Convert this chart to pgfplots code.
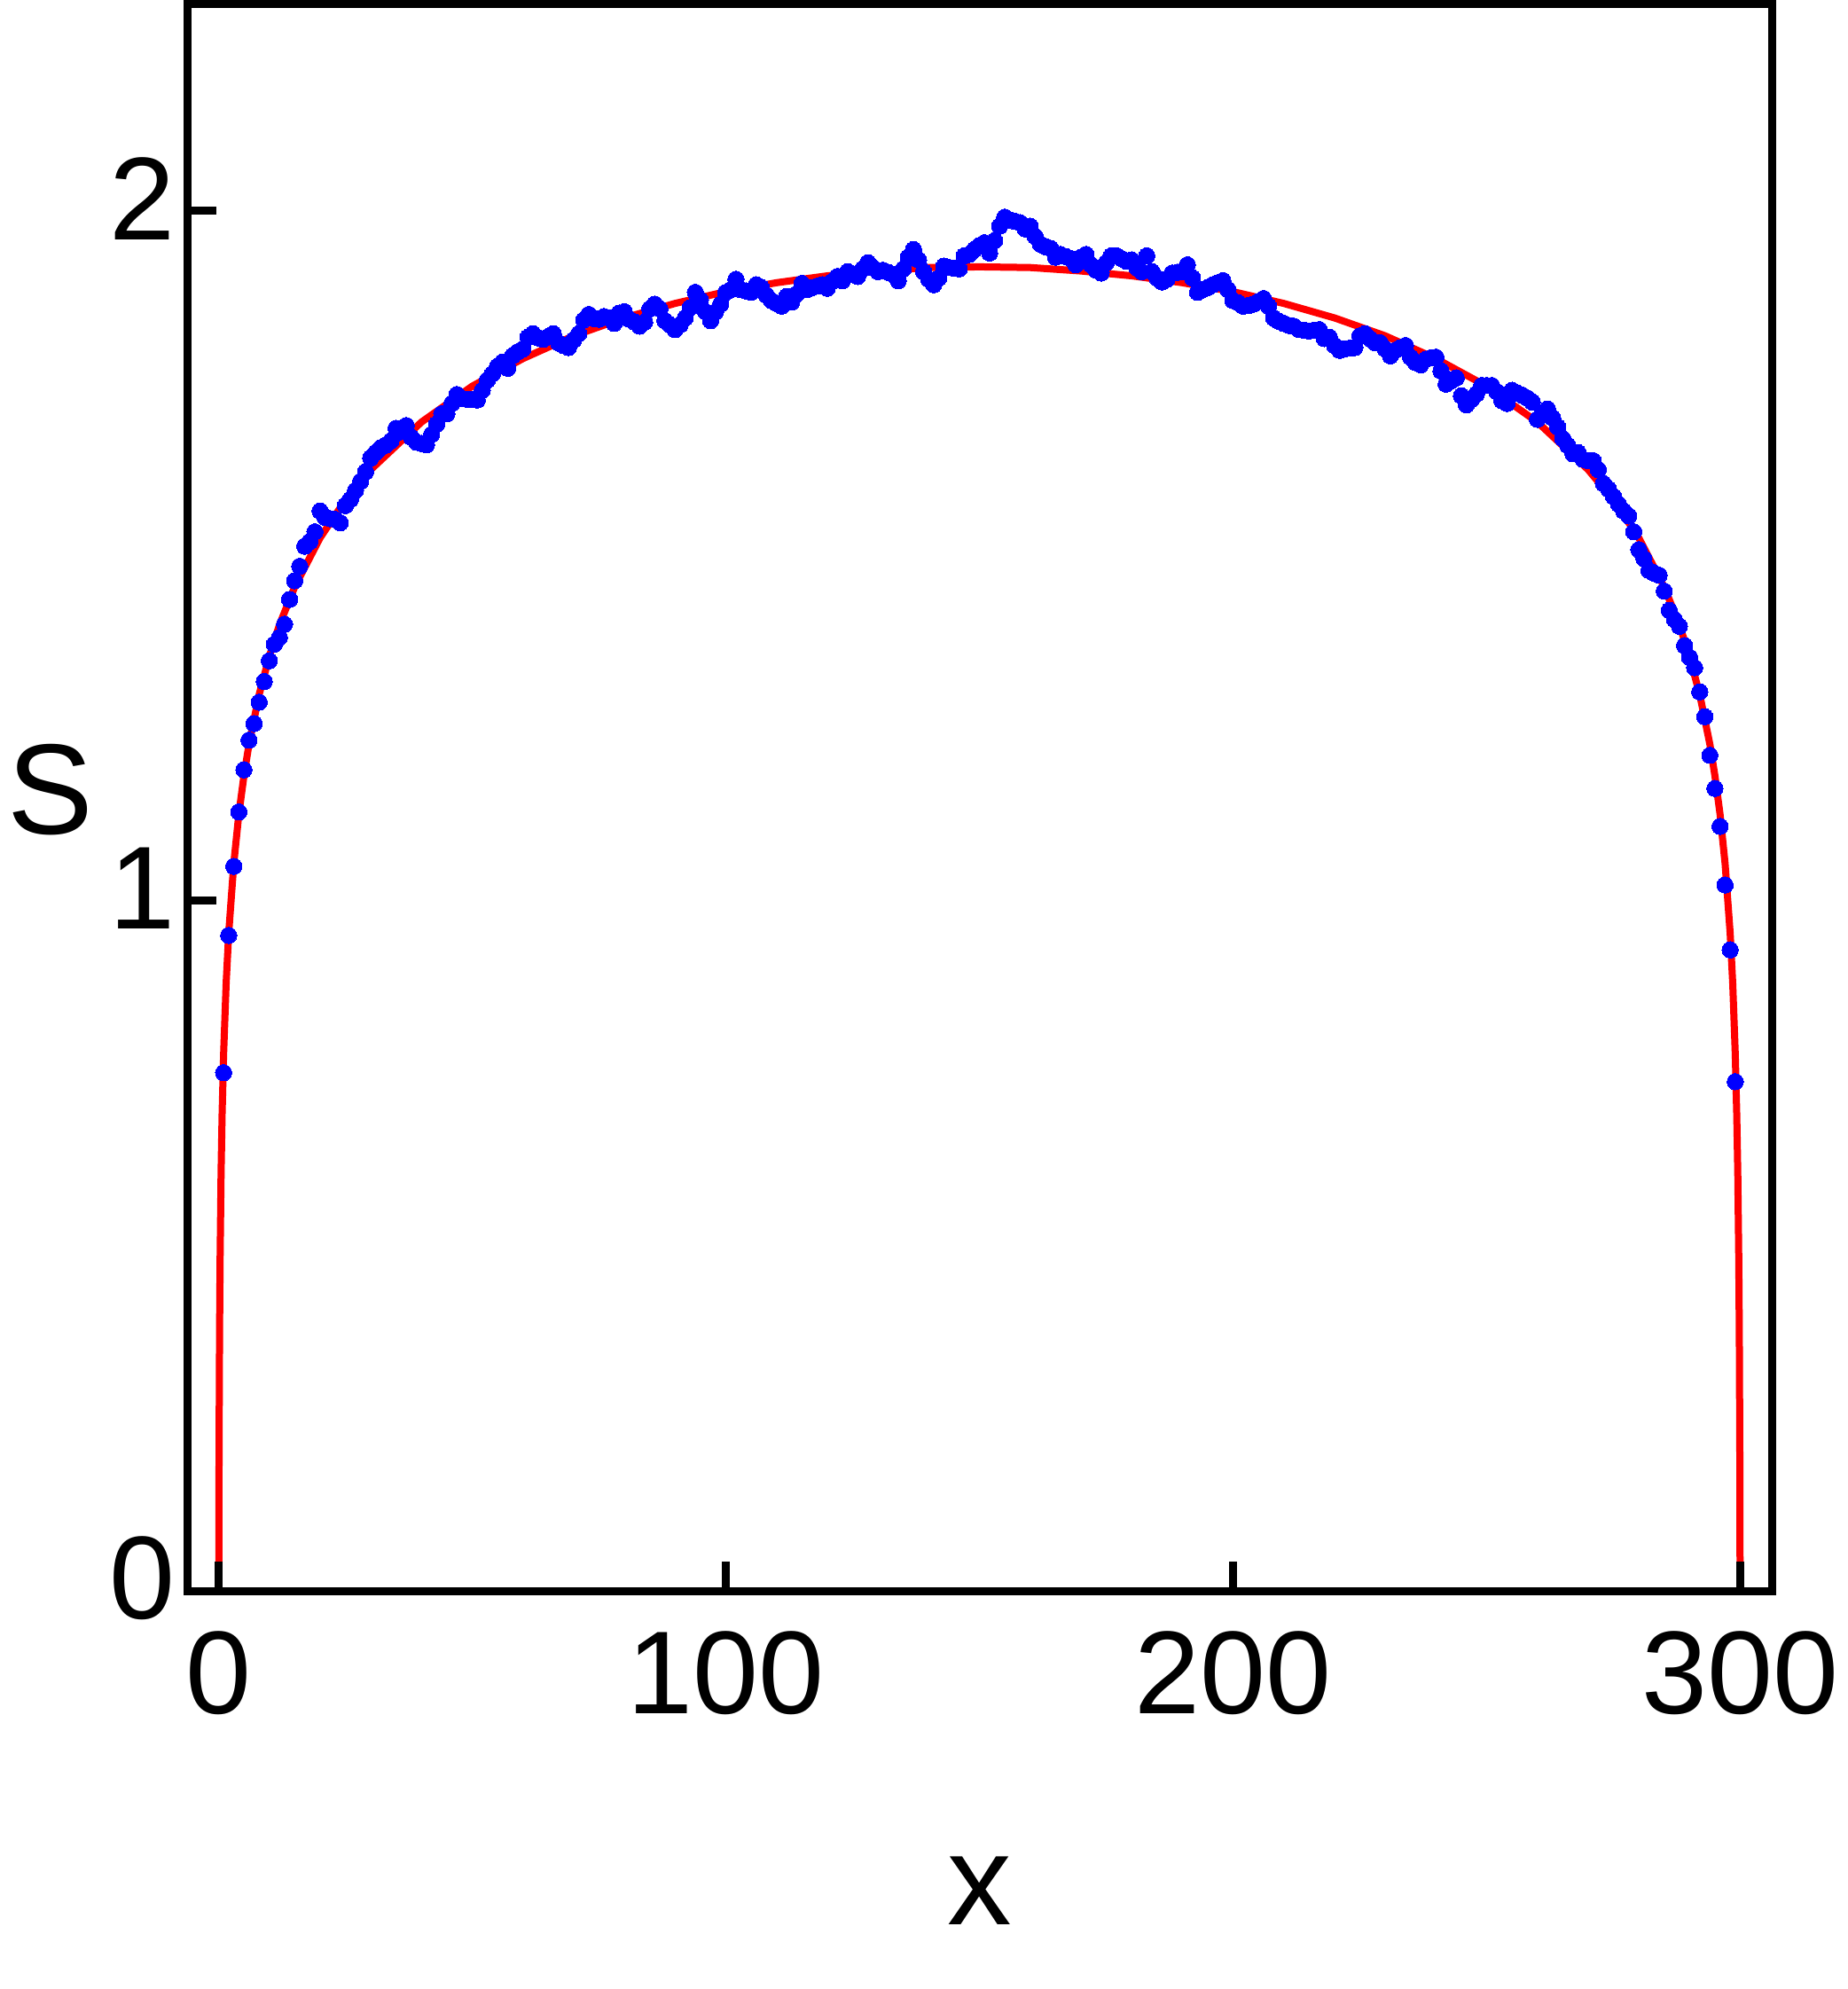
\documentclass[border=0pt]{standalone}
\usepackage{fontspec}
\setmainfont{Liberation Sans}
\usepackage{pgfplots}
\pgfplotsset{compat=1.18}
\begin{document}
\begin{tikzpicture}
\begin{axis}[
  scale only axis, width=178.7pt, height=178.95pt,
  xmin=-6.2, xmax=306.2, ymin=0, ymax=2.3,
  axis line style={line width=0.9pt, black},
  every tick/.style={line width=0.9pt, black},
  major tick length=3.3pt,
  tick align=inside, xtick pos=bottom, ytick pos=left,
  xtick={0,100,200,300}, ytick={0,1,2},
  minor tick num=0,
  /pgf/number format/assume math mode=true,
  ticklabel style={font=\fontsize{13.3}{14}\selectfont, inner sep=0pt},
  xticklabel style={anchor=north, yshift=-4.4pt},
  yticklabel style={anchor=east, xshift=-1.2pt, yshift=1.4pt},
  xlabel={x}, ylabel={S},
  label style={font=\fontsize{14.5}{16}\selectfont, inner sep=0pt},
  xlabel style={at={(axis description cs:0.5003,-0.189)}, anchor=center},
  ylabel style={at={(axis description cs:-0.086,0.505)}, rotate=-90, anchor=center},
  axis on top=true,
]
\addplot[red, line width=0.8pt, no markers] table {
x y
0.03 -0.097
0.05 0.030
0.1 0.204
0.2 0.377
0.3 0.478
0.5 0.606
0.7 0.690
1 0.779
1.5 0.881
2 0.953
3 1.054
4 1.126
5 1.181
6 1.227
8 1.299
10 1.354
12 1.400
15 1.455
20 1.526
25 1.581
30 1.625
40 1.694
50 1.746
60 1.786
70 1.819
80 1.845
90 1.866
100 1.883
110 1.896
120 1.906
130 1.913
140 1.918
150 1.919
160 1.918
170 1.913
180 1.906
190 1.896
200 1.883
210 1.866
220 1.845
230 1.819
240 1.786
250 1.746
260 1.694
270 1.625
275 1.581
280 1.526
285 1.455
288 1.400
290 1.354
292 1.299
294 1.227
295 1.181
296 1.126
297 1.054
298 0.953
298.5 0.881
299 0.779
299.3 0.690
299.5 0.606
299.7 0.478
299.8 0.377
299.9 0.204
299.95 0.030
299.97 -0.097
};
\addplot[only marks, mark=*, mark size=0.92pt, color=blue, mark options={fill=blue, draw=blue, line width=0pt}] table {
x y
1 0.751
2 0.950
3 1.050
4 1.129
5 1.190
6 1.233
7 1.257
8 1.288
9 1.318
10 1.348
11 1.372
12 1.382
13 1.401
14 1.437
15 1.464
16 1.485
17 1.514
18 1.521
19 1.535
20 1.565
21 1.556
22 1.554
23 1.553
24 1.548
25 1.573
26 1.582
27 1.595
28 1.608
29 1.622
30 1.642
31 1.650
32 1.657
33 1.661
34 1.667
35 1.685
36 1.680
37 1.689
38 1.672
39 1.665
40 1.663
41 1.661
42 1.676
43 1.691
44 1.706
45 1.706
46 1.721
47 1.734
48 1.728
49 1.727
50 1.727
51 1.726
52 1.740
53 1.755
54 1.764
55 1.775
56 1.781
57 1.772
58 1.790
59 1.796
60 1.800
61 1.817
62 1.822
63 1.816
64 1.814
65 1.818
66 1.822
67 1.809
68 1.805
69 1.802
70 1.813
71 1.822
72 1.842
73 1.850
74 1.844
75 1.843
76 1.847
77 1.845
78 1.837
79 1.852
80 1.854
81 1.843
82 1.839
83 1.833
84 1.839
85 1.858
86 1.865
87 1.858
88 1.841
89 1.835
90 1.828
91 1.835
92 1.845
93 1.860
94 1.882
95 1.871
96 1.854
97 1.841
98 1.854
99 1.865
100 1.882
101 1.886
102 1.901
103 1.886
104 1.884
105 1.882
106 1.893
107 1.889
108 1.878
109 1.870
110 1.866
111 1.862
112 1.876
113 1.868
114 1.880
115 1.895
116 1.886
117 1.889
118 1.891
119 1.893
120 1.888
121 1.898
122 1.905
123 1.899
124 1.912
125 1.908
126 1.905
127 1.916
128 1.925
129 1.918
130 1.912
131 1.914
132 1.911
133 1.908
134 1.899
135 1.916
136 1.933
137 1.944
138 1.929
139 1.912
140 1.901
141 1.893
142 1.903
143 1.920
144 1.918
145 1.917
146 1.916
147 1.935
148 1.937
149 1.944
150 1.950
151 1.954
152 1.939
153 1.957
154 1.978
155 1.991
156 1.987
157 1.985
158 1.983
159 1.974
160 1.978
161 1.963
162 1.952
163 1.948
164 1.946
165 1.933
166 1.937
167 1.934
168 1.931
169 1.922
170 1.933
171 1.937
172 1.922
173 1.914
174 1.910
175 1.925
176 1.935
177 1.935
178 1.931
179 1.927
180 1.929
181 1.918
182 1.912
183 1.935
184 1.912
185 1.903
186 1.897
187 1.901
188 1.910
189 1.911
190 1.912
191 1.922
192 1.903
193 1.882
194 1.886
195 1.889
196 1.893
197 1.896
198 1.899
199 1.886
200 1.870
201 1.867
202 1.862
203 1.863
204 1.865
205 1.869
206 1.873
207 1.862
208 1.845
209 1.840
210 1.837
211 1.834
212 1.833
213 1.828
214 1.827
215 1.826
216 1.827
217 1.828
218 1.815
219 1.817
220 1.805
221 1.798
222 1.800
223 1.801
224 1.802
225 1.819
226 1.822
227 1.815
228 1.809
229 1.809
230 1.800
231 1.790
232 1.798
233 1.802
234 1.805
235 1.788
236 1.780
237 1.777
238 1.785
239 1.787
240 1.788
241 1.768
242 1.749
243 1.754
244 1.758
245 1.732
246 1.719
247 1.727
248 1.735
249 1.747
250 1.747
251 1.747
252 1.738
253 1.725
254 1.721
255 1.740
256 1.736
257 1.733
258 1.729
259 1.723
260 1.698
261 1.706
262 1.713
263 1.700
264 1.687
265 1.670
266 1.660
267 1.648
268 1.650
269 1.640
270 1.638
271 1.638
272 1.625
273 1.605
274 1.597
275 1.586
276 1.575
277 1.565
278 1.558
279 1.535
280 1.509
281 1.496
282 1.479
283 1.475
284 1.472
285 1.449
286 1.421
287 1.408
288 1.398
289 1.370
290 1.353
291 1.338
292 1.303
293 1.267
294 1.211
295 1.163
296 1.108
297 1.023
298 0.929
299 0.738
};
\end{axis}
\pgfresetboundingbox
\path[use as bounding box] (-21.1pt,-44.9pt) rectangle (187.2pt,179.4pt);
\end{tikzpicture}
\end{document}
